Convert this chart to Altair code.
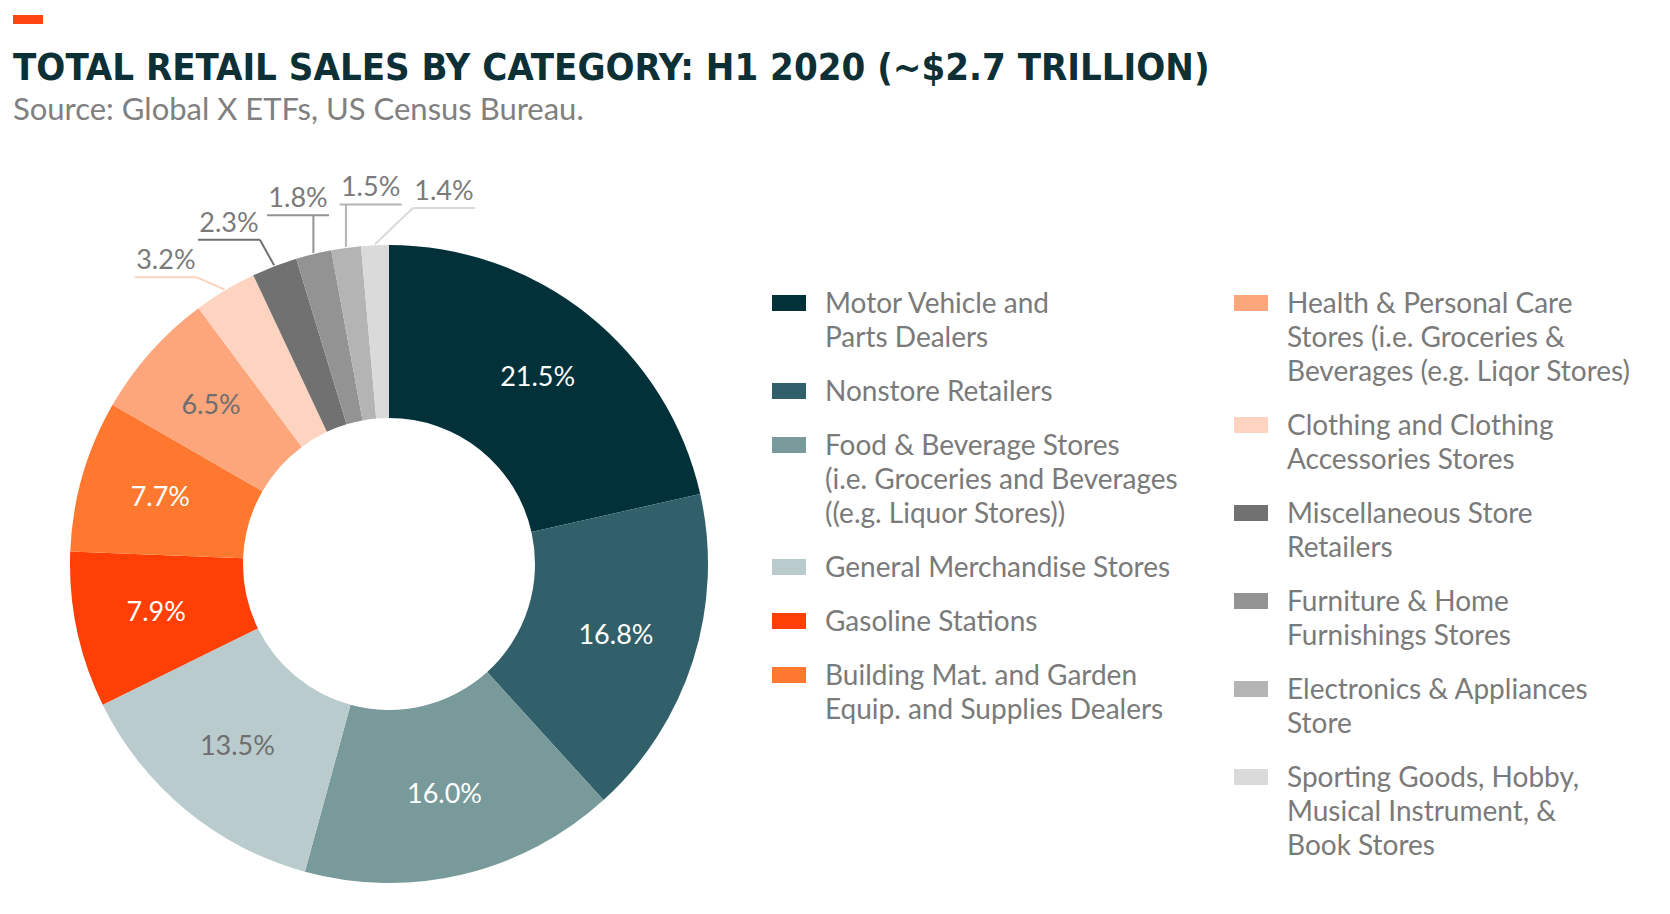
import altair as alt
import pandas as pd

# ---------------- data ----------------
categories = [
    "Motor Vehicle and Parts Dealers",
    "Nonstore Retailers",
    "Food & Beverage Stores",
    "General Merchandise Stores",
    "Gasoline Stations",
    "Building Mat. and Garden Equip. and Supplies Dealers",
    "Health & Personal Care Stores",
    "Clothing and Clothing Accessories Stores",
    "Miscellaneous Store Retailers",
    "Furniture & Home Furnishings Stores",
    "Electronics & Appliances Store",
    "Sporting Goods, Hobby, Musical Instrument, & Book Stores",
]
values = [21.5, 16.8, 16.0, 13.5, 7.9, 7.7, 6.5, 3.2, 2.3, 1.8, 1.5, 1.4]
legend_labels = [
    "Motor Vehicle and\nParts Dealers",
    "Nonstore Retailers",
    "Food & Beverage Stores\n(i.e. Groceries and Beverages\n((e.g. Liquor Stores))",
    "General Merchandise Stores",
    "Gasoline Stations",
    "Building Mat. and Garden\nEquip. and Supplies Dealers",
    "Health & Personal Care\nStores (i.e. Groceries &\nBeverages (e.g. Liqor Stores)",
    "Clothing and Clothing\nAccessories Stores",
    "Miscellaneous Store\nRetailers",
    "Furniture & Home\nFurnishings Stores",
    "Electronics & Appliances\nStore",
    "Sporting Goods, Hobby,\nMusical Instrument, &\nBook Stores",
]
title_text = "TOTAL RETAIL SALES BY CATEGORY: H1 2020 (~$2.7 TRILLION)"
subtitle_text = "Source: Global X ETFs, US Census Bureau."

# ---------------- style ----------------
palette = [
    "#03313a", "#32606a", "#799a9b", "#b9cbcd", "#ff3f05", "#fe792f",
    "#fda57b", "#fed3c0", "#717171", "#939393", "#b4b4b4", "#dadada",
]
light_slices = ["General Merchandise Stores", "Health & Personal Care Stores"]
TEXT_GREY = "#7a7a7a"
FONT = "Lato"
TITLE_FONT = "'Liberation Sans Narrow', 'DejaVu Sans Condensed', sans-serif"

W, H = 1654, 898
CX, CY = 381, 556          # donut centre (plot coords)
R_OUT, R_IN = 319, 146
R_TXT = 238
R_LBL = 376
N = len(categories)

LEG_TOP, LINE_H, GAP = 295, 34, 20
C1X, C2X = 764, 1226

df = pd.DataFrame({
    "category": categories,
    "value": values,
    "legend": legend_labels,
    "order": list(range(N)),
})

color_scale = alt.Scale(domain=categories, range=palette)
base = alt.Chart(df)
theta = alt.Theta("value:Q", stack=True)

arcs = base.mark_arc(innerRadius=R_IN, outerRadius=R_OUT).encode(
    theta=theta,
    color=alt.Color("category:N", scale=color_scale, legend=None),
    order=alt.Order("order:Q"),
    x=alt.value(CX), y=alt.value(CY),
)

inner_labels = base.transform_calculate(
    lab="datum.value >= 5 ? format(datum.value, '.1f') + '%' : ''"
).mark_text(radius=R_TXT, font=FONT, fontSize=27, align="center", baseline="middle").encode(
    theta=theta,
    order=alt.Order("order:Q"),
    text="lab:N",
    x=alt.value(CX), y=alt.value(CY),
    color=alt.condition(
        alt.FieldOneOfPredicate(field="category", oneOf=light_slices),
        alt.value("#6e6e6e"), alt.value("white"),
    ),
)

geo = base.transform_joinaggregate(total="sum(value)").transform_window(
    cum="sum(value)", sort=[alt.SortField("order")], frame=[None, 0]
).transform_calculate(
    mid="(datum.cum - datum.value / 2) / datum.total * 2 * PI",
    k=f"{N - 1} - datum.order",
).transform_calculate(
    la="(8.4 - 11.2 * datum.k) * PI / 180",
    ex=f"{CX} + {R_OUT + 1} * sin(datum.mid)",
    ey=f"{CY} - {R_OUT + 1} * cos(datum.mid)",
).transform_calculate(
    lx=f"{CX} + {R_LBL} * sin(datum.la)",
    ly=f"{CY} - {R_LBL} * cos(datum.la)",
).transform_calculate(
    uy="datum.ly + 16",
    ul="datum.lx - 31",
    ur="datum.lx + 31",
    ax="clamp(datum.ex, datum.lx - 31, datum.lx + 31)",
    lab="format(datum.value, '.1f') + '%'",
).transform_filter("datum.value < 5")

px = lambda f: alt.X(f, scale=None, axis=None)
py = lambda f: alt.Y(f, scale=None, axis=None)
line_color = alt.Color("category:N", scale=color_scale, legend=None)

connectors = geo.mark_rule(strokeWidth=2).encode(
    x=px("ex:Q"), y=py("ey:Q"), x2="ax:Q", y2="uy:Q", color=line_color
)
underlines = geo.mark_rule(strokeWidth=2).encode(
    x=px("ul:Q"), x2="ur:Q", y=py("uy:Q"), color=line_color
)
outer_labels = geo.mark_text(font=FONT, fontSize=27, color=TEXT_GREY,
                             align="center", baseline="middle").encode(
    x=px("lx:Q"), y=py("ly:Q"), text="lab:N"
)

leg = base.transform_calculate(
    col="datum.order < 6 ? 0 : 1",
    nlines="length(split(datum.legend, '\\n'))",
    j="datum.order % 6",
).transform_window(
    cumlines="sum(nlines)", groupby=["col"], sort=[alt.SortField("order")], frame=[None, 0]
).transform_calculate(
    sy=f"{LEG_TOP} + (datum.cumlines - datum.nlines) * {LINE_H} + datum.j * {GAP}",
    sx=f"datum.col == 0 ? {C1X} : {C2X}",
).transform_calculate(
    sx2="datum.sx + 34",
    sy1="datum.sy - 8",
    sy2="datum.sy + 8",
    tx="datum.sx + 53",
    ty="datum.sy - 12",
)

leg_sym = leg.mark_rect().encode(
    x=px("sx:Q"), x2="sx2:Q", y=py("sy1:Q"), y2="sy2:Q",
    color=alt.Color("category:N", scale=color_scale, legend=None),
)
leg_txt = leg.mark_text(font=FONT, fontSize=28, color=TEXT_GREY, align="left",
                        baseline="top", lineBreak="\n", lineHeight=LINE_H).encode(
    x=px("tx:Q"), y=py("ty:Q"), text="legend:N"
)

head = alt.Chart(pd.DataFrame({"t": [title_text], "s": [subtitle_text]}))
accent = head.mark_rect(color="#ff4612").encode(
    x=alt.value(5), x2=alt.value(35), y=alt.value(7), y2=alt.value(16)
)
title = head.mark_text(font=TITLE_FONT, fontWeight="bold", fontSize=38, color="#0d2f36",
                       align="left", baseline="alphabetic").encode(
    x=alt.value(5), y=alt.value(72), text="t:N"
)
subtitle = head.mark_text(font=FONT, fontSize=31, color="#808080",
                          align="left", baseline="alphabetic").encode(
    x=alt.value(5), y=alt.value(112), text="s:N"
)

chart = alt.layer(
    arcs, inner_labels, connectors, underlines, outer_labels,
    leg_sym, leg_txt, accent, title, subtitle
).properties(
    width=W, height=H, autosize=alt.AutoSizeParams(type="none"), padding=0
).configure_view(stroke=None)

chart.save("out.html", embed_options={"renderer": "svg", "actions": False})
